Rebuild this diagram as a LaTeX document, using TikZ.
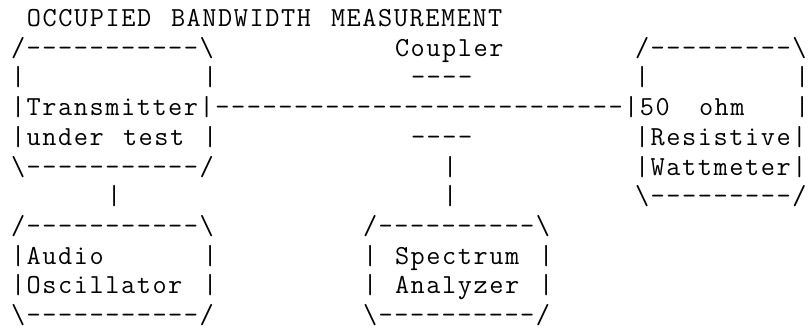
\documentclass[tikz,border=0pt]{standalone}
\usepackage{fontspec}
\newfontfamily\asciifont[Ligatures=TeXOff,LetterSpace=5.68]{Latin Modern Mono}
\newcommand\bs{\textbackslash}
\begin{document}
\begin{tikzpicture}[x=1pt,y=1pt,
  txt/.style={anchor=base west,inner sep=0pt,outer sep=0pt,font=\asciifont\fontsize{27.5pt}{30pt}\selectfont}]
\useasboundingbox (0,0) rectangle (809,-329);
\clip (0,0) rectangle (809,-329);
\newcommand\asc[4]{\node[txt] (#1) at ({11+16*#2},{-(26.5+29.7*#3)}) {#4};}
% row 0
\asc{titlea}{1}{0}{OCCUPIED}
\asc{titleb}{10}{0}{BANDWIDTH}
\asc{titlec}{20}{0}{MEASUREMENT}
% row 1
\asc{txtop}{0}{1}{/-----------\bs}
\asc{coupler}{24}{1}{Coupler}
\asc{wmtop}{39}{1}{/---------\bs}
% row 2
\asc{txl2}{0}{2}{|}
\asc{txr2}{12}{2}{|}
\asc{cpa}{25}{2}{----}
\asc{wml2}{39}{2}{|}
\asc{wmr2}{49}{2}{|}
% row 3
\asc{txline}{0}{3}{|Transmitter|--------------------------|50}
\asc{ohm}{43}{3}{ohm}
\asc{wmr3}{49}{3}{|}
% row 4
\asc{txunder}{0}{4}{|under}
\asc{txtest}{7}{4}{test}
\asc{txr4}{12}{4}{|}
\asc{cpb}{25}{4}{----}
\asc{wmres}{39}{4}{|Resistive|}
% row 5
\asc{txbot}{0}{5}{\bs-----------/}
\asc{cpv5}{27}{5}{|}
\asc{wmwatt}{39}{5}{|Wattmeter|}
% row 6
\asc{txv6}{6}{6}{|}
\asc{cpv6}{27}{6}{|}
\asc{wmbot}{39}{6}{\bs---------/}
% row 7
\asc{aotop}{0}{7}{/-----------\bs}
\asc{satop}{22}{7}{/----------\bs}
% row 8
\asc{aoaudio}{0}{8}{|Audio}
\asc{aor8}{12}{8}{|}
\asc{sal8}{22}{8}{|}
\asc{saspec}{24}{8}{Spectrum}
\asc{sar8}{33}{8}{|}
% row 9
\asc{aoosc}{0}{9}{|Oscillator}
\asc{aor9}{12}{9}{|}
\asc{sal9}{22}{9}{|}
\asc{saan}{24}{9}{Analyzer}
\asc{sar9}{33}{9}{|}
% row 10
\asc{aobot}{0}{10}{\bs-----------/}
\asc{sabot}{22}{10}{\bs----------/}
\end{tikzpicture}
\end{document}
